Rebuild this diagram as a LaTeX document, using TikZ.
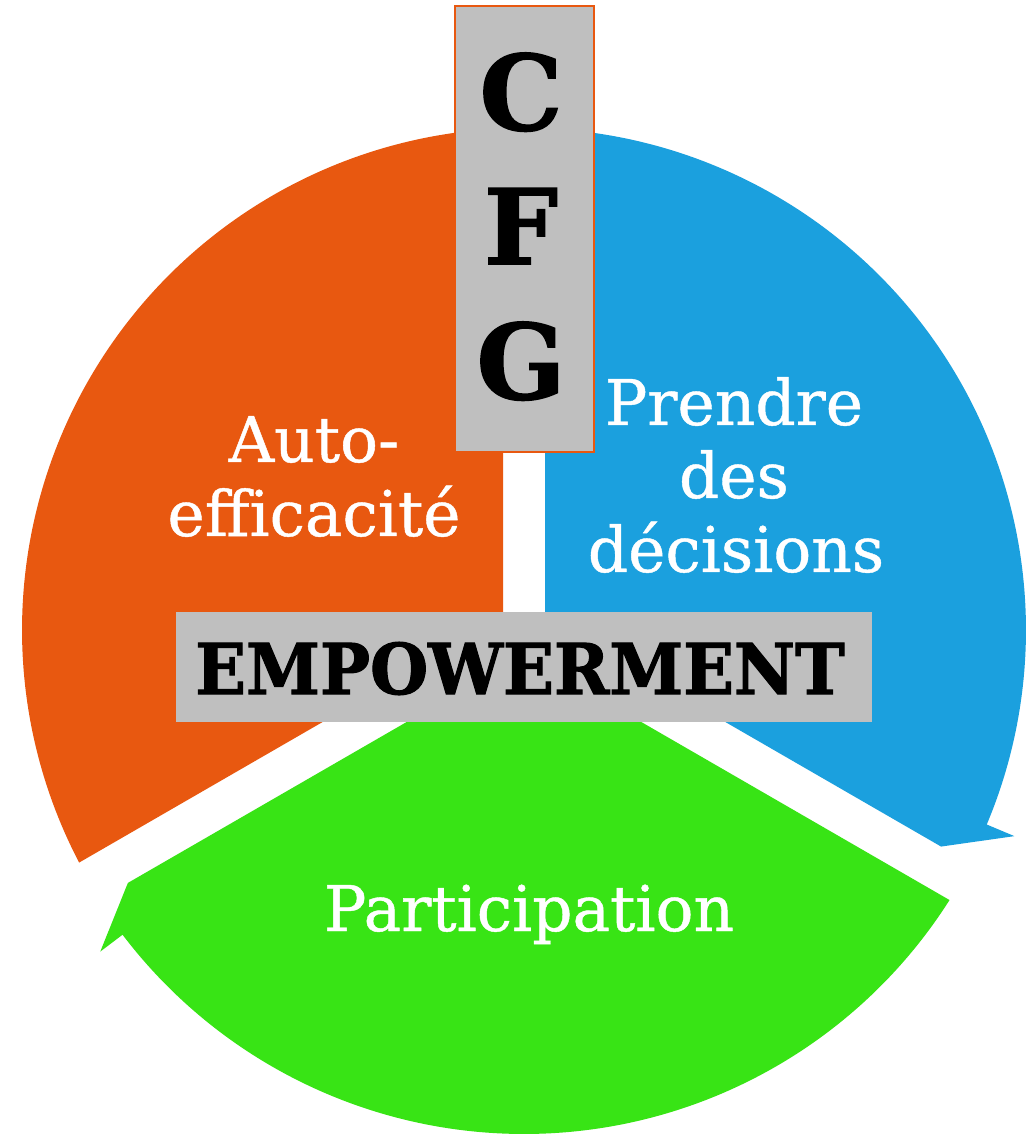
\documentclass[tikz,border=0pt]{standalone}
\usepackage{fontspec}
\setmainfont{DejaVu Serif}
\newfontfamily\heavyslab{DejaVu Serif Bold}[FakeBold=1.6]
\newfontfamily\lblslab{DejaVu Serif}[FakeBold=0.7]
\definecolor{segorange}{RGB}{232,88,16}
\definecolor{segblue}{RGB}{27,160,222}
\definecolor{seggreen}{RGB}{56,228,21}
\definecolor{boxgray}{RGB}{191,191,191}
\tikzset{
  graybox/.style={fill=boxgray, inner sep=0pt, outer sep=0pt},
  letterlbl/.style={font=\heavyslab\fontsize{104}{104}\selectfont, text=black, inner sep=0pt, anchor=base},
  seglbl/.style={font=\lblslab\fontsize{63}{74}\selectfont, text=white, inner sep=0pt, anchor=base},
  emplbl/.style={font=\heavyslab\fontsize{70}{70}\selectfont, text=black, inner sep=0pt, anchor=base, xscale=0.953}
}
\begin{document}
\begin{tikzpicture}[x=1pt,y=1pt]
\useasboundingbox (-524,-507) rectangle (506,630);
\fill[white] (-524,-507) rectangle (506,630);
% segments
\coordinate (oc) at (-21,12.12);
\coordinate (bc) at (21,12.12);
\coordinate (gc) at (0,-24.25);
\fill[segorange] (oc) -- (207.6:502) arc[start angle=207.6,end angle=97.2,radius=502] -- (97.2:532) -- (92.56:470) -- cycle;
\fill[segblue] (bc) -- (87.6:502) arc[start angle=87.6,end angle=-22.8,radius=502] -- (-22.8:532) -- (-27.44:470) -- cycle;
\fill[seggreen] (gc) -- (327.6:504) arc[start angle=327.6,end angle=217.2,radius=504] -- (217.2:532) -- (212.56:470) -- cycle;
% CFG box
\node[graybox, draw=segorange, line width=1.2pt, minimum width=139pt, minimum height=446pt] (cfg) at (0.5,401) {};
\node[letterlbl] (lc) at (-3,500) {C};
\node[letterlbl] (lf) at (-3,366) {F};
\node[letterlbl] (lg) at (-3,231) {G};
% EMPOWERMENT box
\node[graybox, minimum width=696pt, minimum height=110pt] (emp) at (0,-37) {};
\node[emplbl] (empt) at (-4,-64) {EMPOWERMENT};
% labels
\node[seglbl] (auto1) at (-210,168) {Auto-};
\node[seglbl] (auto2) at (-210,94) {efficacité};
\node[seglbl] (pre1) at (210,205) {Prendre};
\node[seglbl] (pre2) at (210,132) {des};
\node[seglbl] (pre3) at (212,58) {décisions};
\node[seglbl] (part) at (5,-301) {Participation};
\end{tikzpicture}
\end{document}
